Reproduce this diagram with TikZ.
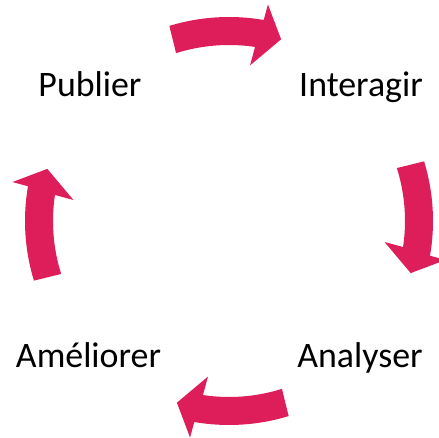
\documentclass[tikz,border=0pt]{standalone}
\usepackage{fontspec}
\setmainfont{Carlito}
\usetikzlibrary{positioning}
\definecolor{cyclered}{RGB}{221,30,90}
\tikzset{
word/.style = {inner sep=0pt, anchor=base, font=\fontsize{36}{42}\selectfont},
bendarrow/.style = {fill=cyclered, draw=none}
}

\begin{document}
\begin{tikzpicture}[x=1bp, y=1bp]
  \useasboundingbox (0,0) rectangle (439,438);
  \coordinate (centre) at (229,217);

  \node [word] (publier)   at (90,341)  {Publier};
  \node [word] (interagir) at (361,341) {Interagir};
  \node [word] (analyser)  at (360,70)  {Analyser};
  \node [word] (ameliorer) at (88.5,70) {Améliorer};

  % one arrow, turned four times round the centre
  \foreach \turn in {0,-90,-180,-270}
    \fill [bendarrow, shift={(centre)}, rotate=\turn]
      (107:204bp) arc [start angle=107, end angle=80.2, radius=204bp]
      -- (79.8:220bp) -- (74:189bp) -- (82.3:157bp) -- (81.5:176bp)
      arc [start angle=81.5, end angle=107.5, radius=176bp] -- cycle;
\end{tikzpicture}
\end{document}
